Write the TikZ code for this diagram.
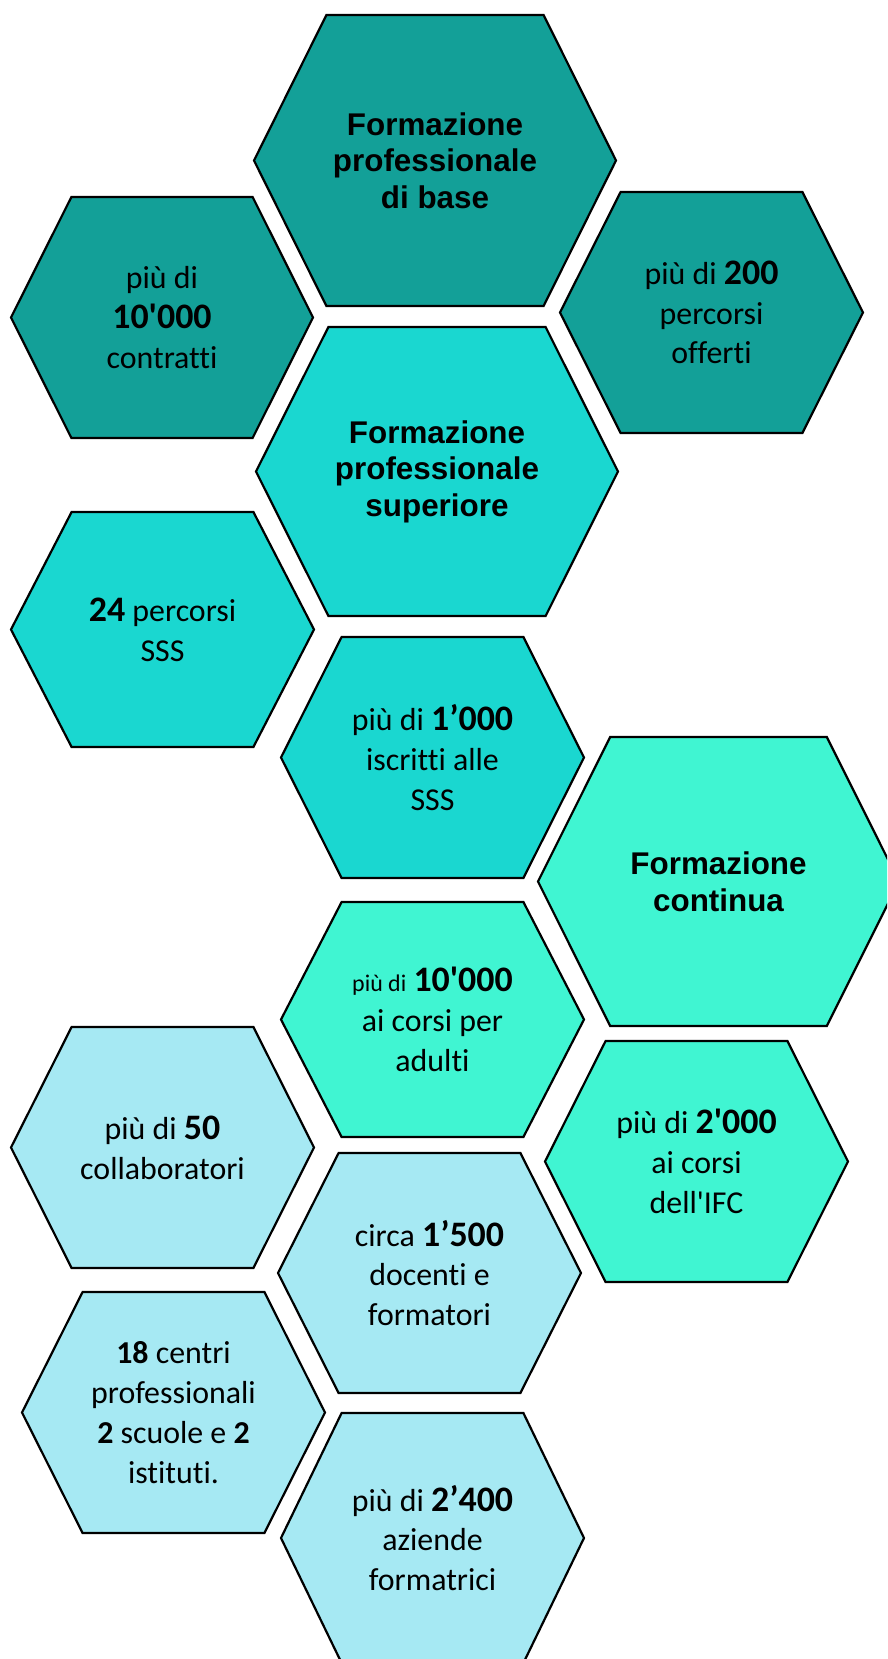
\documentclass[tikz,border=0pt]{standalone}
\usepackage{fontspec}
\setmainfont{Carlito}[Ligatures=NoCommon]
\newfontfamily\titlefont{Liberation Sans}
\definecolor{base}{HTML}{13A098}
\definecolor{superiore}{HTML}{1AD7D0}
\definecolor{continua}{HTML}{40F5D2}
\definecolor{istituto}{HTML}{A6E9F3}
\newcommand{\nr}[1]{{\bfseries\fontsize{36}{40}\selectfont #1}}
\newcommand{\ap}{\textquotesingle}

\begin{document}
\begin{tikzpicture}[x=1bp,y=-1bp]
    \tikzset{pics/hexa/.style 2 args={code={
            \path[pic actions] (-#1/2,0) -- (-0.3*#1,-#2/2) -- (0.3*#1,-#2/2)
                -- (#1/2,0) -- (0.3*#1,#2/2) -- (-0.3*#1,#2/2) -- cycle;}},
        cell/.style={fill=#1, draw=black, line width=2.2bp},
        title/.style={align=center, font=\titlefont\bfseries\fontsize{31.5}{36.7}\selectfont},
        txt/.style={align=center, font=\fontsize{32}{40}\selectfont}}
    \clip (0,0) rectangle (887,1659);

    %base
    \pic[cell=base] at (435,160.5) {hexa={362}{291}};
    \node[title] (base) at (435,160.5) {Formazione\\professionale\\di base};
    \pic[cell=base] at (162,317.5) {hexa={302}{241}};
    \node[txt] (contratti) at (162,317.5) {più di\\\nr{10\ap000}\\contratti};
    \pic[cell=base] at (711.5,312.5) {hexa={303}{241}};
    \node[txt] (offerti) at (711.5,312.5) {più di \nr{200}\\percorsi\\offerti};

    %superiore
    \pic[cell=superiore] at (437,471.5) {hexa={362}{289}};
    \node[title] (superiore) at (437,471.5) {Formazione\\professionale\\superiore};
    \pic[cell=superiore] at (162.5,629.5) {hexa={303}{235}};
    \node[txt] (sss) at (162.5,629.5) {\nr{24} percorsi\\SSS};
    \pic[cell=superiore] at (432.5,757.5) {hexa={303}{241}};
    \node[txt] (iscritti) at (432.5,757.5) {più di \nr{1’000}\\iscritti alle\\SSS};

    %continua
    \pic[cell=continua] at (718.5,881.5) {hexa={361}{289}};
    \node[title] (continua) at (718.5,881.5) {Formazione\\continua};
    \pic[cell=continua] at (432.5,1019.5) {hexa={303}{235}};
    \node[txt] (adulti) at (432.5,1019.5)
        {{\fontsize{24}{30}\selectfont più di} \nr{10\ap000}\\ai corsi per\\adulti};
    \pic[cell=continua] at (696.5,1161.5) {hexa={303}{241}};
    \node[txt] (ifc) at (696.5,1161.5) {più di \nr{2\ap000}\\ai corsi\\dell\ap IFC};

    %istituti
    \pic[cell=istituto] at (162.5,1147.5) {hexa={303}{241}};
    \node[txt] (collaboratori) at (162.5,1147.5) {più di \nr{50}\\collaboratori};
    \pic[cell=istituto] at (429.5,1273) {hexa={303}{240}};
    \node[txt] (docenti) at (429.5,1273) {circa \nr{1’500}\\docenti e\\formatori};
    \pic[cell=istituto] at (173.5,1412.5) {hexa={303}{241}};
    \node[txt] (centri) at (173.5,1412.5)
        {\textbf{18} centri\\professionali\\\textbf{2} scuole e \textbf{2}\\istituti.};
    \pic[cell=istituto] at (432.5,1538) {hexa={303}{250}};
    \node[txt] (aziende) at (432.5,1538) {più di \nr{2’400}\\aziende\\formatrici};
\end{tikzpicture}
\end{document}
